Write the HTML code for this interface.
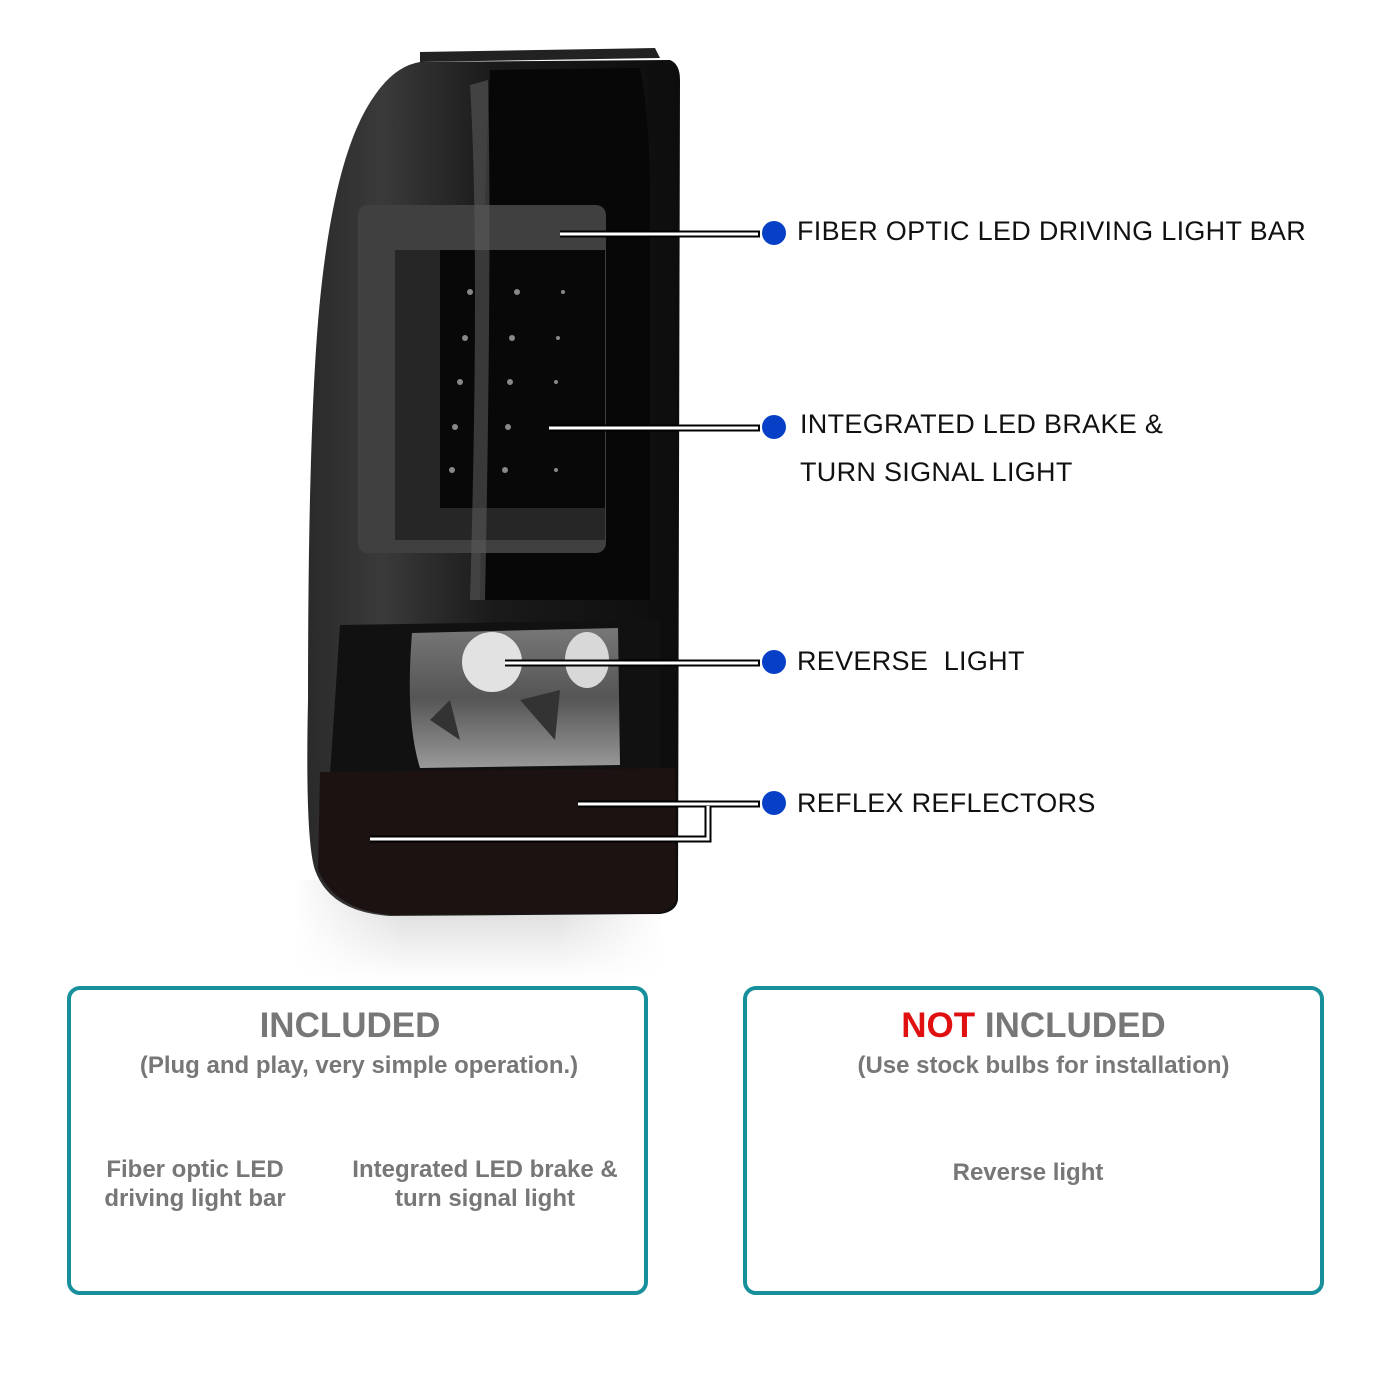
<!DOCTYPE html>
<html><head><meta charset="utf-8"><style>
html,body{margin:0;padding:0;background:#fff;}
body{width:1400px;height:1400px;position:relative;overflow:hidden;font-family:"Liberation Sans",sans-serif;}
.lbl{position:absolute;font-size:27px;color:#111;letter-spacing:0.3px;white-space:nowrap;}
.box{position:absolute;border:4px solid #17909c;border-radius:13px;box-sizing:border-box;}
.t{position:absolute;color:#777;font-weight:bold;text-align:center;white-space:nowrap;font-family:"Liberation Sans",sans-serif;}
</style></head><body>
<svg width="1400" height="1000" style="position:absolute;left:0;top:0">
<defs>
<linearGradient id="sh" x1="0" y1="0" x2="0" y2="1"><stop offset="0" stop-color="#d0d0d0"/><stop offset="1" stop-color="#fff"/></linearGradient>
<linearGradient id="shx" x1="0" y1="0" x2="1" y2="0"><stop offset="0" stop-color="#fff" stop-opacity="1"/><stop offset="0.3" stop-color="#fff" stop-opacity="0"/><stop offset="0.7" stop-color="#fff" stop-opacity="0"/><stop offset="1" stop-color="#fff" stop-opacity="1"/></linearGradient>
<linearGradient id="bd" x1="0" y1="0" x2="1" y2="0"><stop offset="0" stop-color="#2a2a2a"/><stop offset="0.2" stop-color="#3a3a3a"/><stop offset="0.5" stop-color="#1a1a1a"/><stop offset="1" stop-color="#0d0d0d"/></linearGradient>
<linearGradient id="ch" x1="0" y1="0" x2="0" y2="1"><stop offset="0" stop-color="#777"/><stop offset="0.5" stop-color="#555"/><stop offset="1" stop-color="#999"/></linearGradient>
</defs>
<rect x="295" y="880" width="370" height="100" fill="url(#sh)"/>
<rect x="295" y="880" width="370" height="100" fill="url(#shx)"/>
<path d="M420 52 L655 48 L660 58 L420 62 Z" fill="#222"/>
<path d="M420 62 L670 60 Q680 64 680 80 L678 900 Q676 912 660 914 L390 916 Q330 912 315 870 Q305 840 308 700 Q308 420 320 300 Q335 150 375 95 Q395 66 420 62 Z" fill="url(#bd)"/>
<path d="M490 70 L640 68 Q650 120 650 200 L650 600 L480 600 L485 200 Z" fill="#070707"/>
<rect x="358" y="205" width="248" height="348" rx="10" fill="#404040"/>
<rect x="395" y="250" width="210" height="290" fill="#262626"/>
<rect x="440" y="250" width="165" height="258" fill="#080808"/>
<path d="M470 85 Q480 250 470 600 L485 600 Q492 250 488 80 Z" fill="#5a5a5a" opacity="0.6"/>
<g fill="#888">
<circle cx="470" cy="292" r="3"/><circle cx="517" cy="292" r="3"/><circle cx="563" cy="292" r="2"/>
<circle cx="465" cy="338" r="3"/><circle cx="512" cy="338" r="3"/><circle cx="558" cy="338" r="2"/>
<circle cx="460" cy="382" r="3"/><circle cx="510" cy="382" r="3"/><circle cx="556" cy="382" r="2"/>
<circle cx="455" cy="427" r="3"/><circle cx="508" cy="427" r="3"/>
<circle cx="452" cy="470" r="3"/><circle cx="505" cy="470" r="3"/><circle cx="556" cy="470" r="2"/>
</g>
<path d="M340 625 L660 620 L660 770 L330 775 Z" fill="#111"/>
<path d="M412 633 L618 628 L620 765 L420 768 Q405 720 412 633 Z" fill="url(#ch)"/>
<circle cx="492" cy="662" r="30" fill="#e2e2e2"/>
<ellipse cx="587" cy="660" rx="22" ry="28" fill="#d8d8d8"/>
<path d="M430 720 L450 700 L460 740 Z M520 700 L560 690 L555 740 Z" fill="#333"/>
<path d="M320 772 L675 768 L676 900 Q670 912 655 913 L390 915 Q335 910 318 870 Z" fill="#1d1212"/>
<g stroke="#000" stroke-width="7" fill="none">
<path d="M560 234 H760"/><path d="M549 428 H760"/><path d="M505 663 H760"/>
<path d="M578 804 H760"/><path d="M370 839 H708 V804"/>
</g>
<g stroke="#fff" stroke-width="3" fill="none">
<path d="M560 234 H758"/><path d="M549 428 H758"/><path d="M505 663 H758"/>
<path d="M578 804 H758"/><path d="M370 839 H708 V806"/>
</g>
<g fill="#0740c6">
<circle cx="774" cy="233" r="12"/><circle cx="774" cy="427" r="12"/><circle cx="774" cy="662" r="12"/><circle cx="774" cy="803" r="12"/>
</g>
</svg>
<div class="lbl" style="left:797px;top:216px">FIBER OPTIC LED DRIVING LIGHT BAR</div>
<div class="lbl" style="left:800px;top:409px">INTEGRATED LED BRAKE &amp;</div>
<div class="lbl" style="left:800px;top:457px">TURN SIGNAL LIGHT</div>
<div class="lbl" style="left:797px;top:646px">REVERSE&nbsp; LIGHT</div>
<div class="lbl" style="left:797px;top:788px">REFLEX REFLECTORS</div>

<div class="box" style="left:67px;top:986px;width:581px;height:309px"></div>
<div class="t" style="left:67px;width:566px;top:1006px;font-size:35px">INCLUDED</div>
<div class="t" style="left:67px;width:584px;top:1052px;font-size:24px">(Plug and play, very simple operation.)</div>
<div class="t" style="left:90px;width:210px;top:1155px;font-size:24px;line-height:29px">Fiber optic LED<br>driving light bar</div>
<div class="t" style="left:335px;width:300px;top:1155px;font-size:24px;line-height:29px">Integrated LED brake &amp;<br>turn signal light</div>

<div class="box" style="left:743px;top:986px;width:581px;height:309px"></div>
<div class="t" style="left:743px;width:581px;top:1006px;font-size:35px"><span style="color:#e01010">NOT</span> INCLUDED</div>
<div class="t" style="left:753px;width:581px;top:1052px;font-size:24px">(Use stock bulbs for installation)</div>
<div class="t" style="left:743px;width:570px;top:1159px;font-size:24px">Reverse light</div>
</body></html>
